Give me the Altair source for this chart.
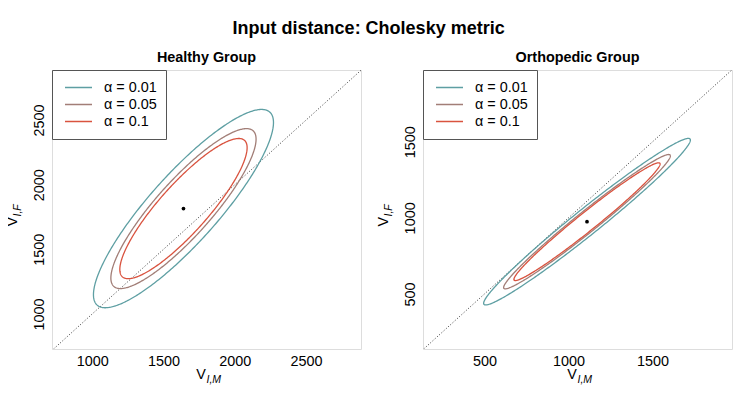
import numpy as np
import pandas as pd
import altair as alt

# ---------------- data ----------------
alphas = [0.01, 0.05, 0.1]
alpha_labels = ["α = 0.01", "α = 0.05", "α = 0.1"]
colors = ["#5E9FA3", "#A27E77", "#D9533F"]

groups = ["Healthy Group", "Orthopedic Group"]
center_x = [1640, 1110]
center_y = [1815, 975]
sd_x = [208.0, 202.5]
sd_y = [252.7, 180.2]
rho = [0.868, 0.98]

x_domain = [[718, 2885], [135, 1972]]
y_domain = [[729, 2887], [139, 1971]]
x_ticks = [[1000, 1500, 2000, 2500], [500, 1000, 1500]]
y_ticks = [[1000, 1500, 2000, 2500], [500, 1000, 1500]]

main_title = "Input distance: Cholesky metric"
FONT = "Liberation Sans"
W, H = 309, 279


def ellipse_frame(k):
    """Confidence ellipses (chi-square, 2 df) from centre + Cholesky factor."""
    t = np.linspace(0, 2 * np.pi, 361)
    sx, sy, r_ = sd_x[k], sd_y[k], rho[k]
    rows = []
    for a, lab in zip(alphas, alpha_labels):
        rad = np.sqrt(-2 * np.log(a))
        xs = center_x[k] + rad * sx * np.cos(t)
        ys = center_y[k] + rad * sy * (r_ * np.cos(t) + np.sqrt(1 - r_ ** 2) * np.sin(t))
        for i, (xv, yv) in enumerate(zip(xs, ys)):
            rows.append({"x": xv, "y": yv, "label": lab, "i": i})
    return pd.DataFrame(rows)


def panel(k):
    xs = alt.Scale(domain=x_domain[k], nice=False, zero=False)
    ys = alt.Scale(domain=y_domain[k], nice=False, zero=False)
    xax = alt.Axis(values=x_ticks[k], format="d", title=None, ticks=False, tickSize=0,
                   domain=False, grid=False, labelFontSize=14.4, labelPadding=5,
                   labelColor="black", labelFont=FONT, labelFlush=False, labelOverlap=False)
    yax = alt.Axis(values=y_ticks[k], format="d", title=None, ticks=False, tickSize=0,
                   domain=False, grid=False, labelFontSize=14.4, labelPadding=9,
                   labelColor="black", labelFont=FONT, labelAngle=270, labelAlign="center",
                   labelBaseline="alphabetic", labelFlush=False, labelOverlap=False)

    lo = max(x_domain[k][0], y_domain[k][0])
    hi = min(x_domain[k][1], y_domain[k][1])
    diag_df = pd.DataFrame({"x": [lo, hi], "y": [lo, hi]})
    diag = alt.Chart(diag_df).mark_line(
        color="black", strokeDash=[1, 2], strokeWidth=0.8, clip=True
    ).encode(x=alt.X("x:Q", scale=xs, axis=xax), y=alt.Y("y:Q", scale=ys, axis=yax))

    ell = alt.Chart(ellipse_frame(k)).mark_line(strokeWidth=1.3, clip=True).encode(
        x=alt.X("x:Q", scale=xs),
        y=alt.Y("y:Q", scale=ys),
        color=alt.Color(
            "label:N",
            scale=alt.Scale(domain=alpha_labels, range=colors),
            legend=alt.Legend(
                title=None, orient="top-left", offset=0, symbolType="stroke",
                symbolSize=729, symbolStrokeWidth=1.3, clipHeight=17,
                labelFontSize=14.4, labelFont=FONT, labelColor="black",
                labelOffset=11, padding=9, symbolOffset=3, rowPadding=0,
                strokeColor="#555555", fillColor="white", cornerRadius=0,
            ),
        ),
        detail="label:N",
        order="i:Q",
    )

    ctr = alt.Chart(pd.DataFrame({"x": [center_x[k]], "y": [center_y[k]]})).mark_circle(
        color="black", size=14, opacity=1
    ).encode(x=alt.X("x:Q", scale=xs), y=alt.Y("y:Q", scale=ys))

    one = pd.DataFrame({"d": [0]})
    xv = alt.Chart(one).mark_text(text="V", fontSize=14.4, font=FONT, align="center",
                                  baseline="alphabetic", color="black").encode(
        x=alt.value(149), y=alt.value(309))
    xsub = alt.Chart(one).mark_text(text="I,M", fontSize=10.5, font=FONT, fontStyle="italic",
                                    align="left", baseline="alphabetic", color="black").encode(
        x=alt.value(154.5), y=alt.value(312.5))
    yv = alt.Chart(one).mark_text(text="V", fontSize=14.4, font=FONT, align="center",
                                  baseline="alphabetic", angle=270, color="black").encode(
        x=alt.value(-34.7), y=alt.value(151.7))
    ysub = alt.Chart(one).mark_text(text="I,F", fontSize=10.5, font=FONT, fontStyle="italic",
                                    align="left", baseline="alphabetic", angle=270,
                                    color="black").encode(
        x=alt.value(-31.2), y=alt.value(146.5))

    return alt.layer(diag, ell, ctr, xv, xsub, yv, ysub).properties(
        width=W, height=H,
        title=alt.TitleParams(groups[k], fontSize=14.4, fontWeight="bold", font=FONT,
                              baseline="alphabetic", offset=-7, anchor="middle", color="black"),
    )


chart = alt.hconcat(
    panel(0), panel(1), spacing=13,
    title=alt.TitleParams(main_title, fontSize=18, fontWeight="bold", font=FONT,
                          anchor="middle", baseline="alphabetic", offset=-2, color="black"),
).resolve_scale(color="independent", x="independent", y="independent").resolve_legend(
    color="independent"
).properties(
    padding={"left": -4, "top": 11, "right": 5, "bottom": 0}
).configure_view(stroke="#555555", strokeWidth=1).configure(background="white")

chart.save("out.html", embed_options={"renderer": "svg", "actions": False})
